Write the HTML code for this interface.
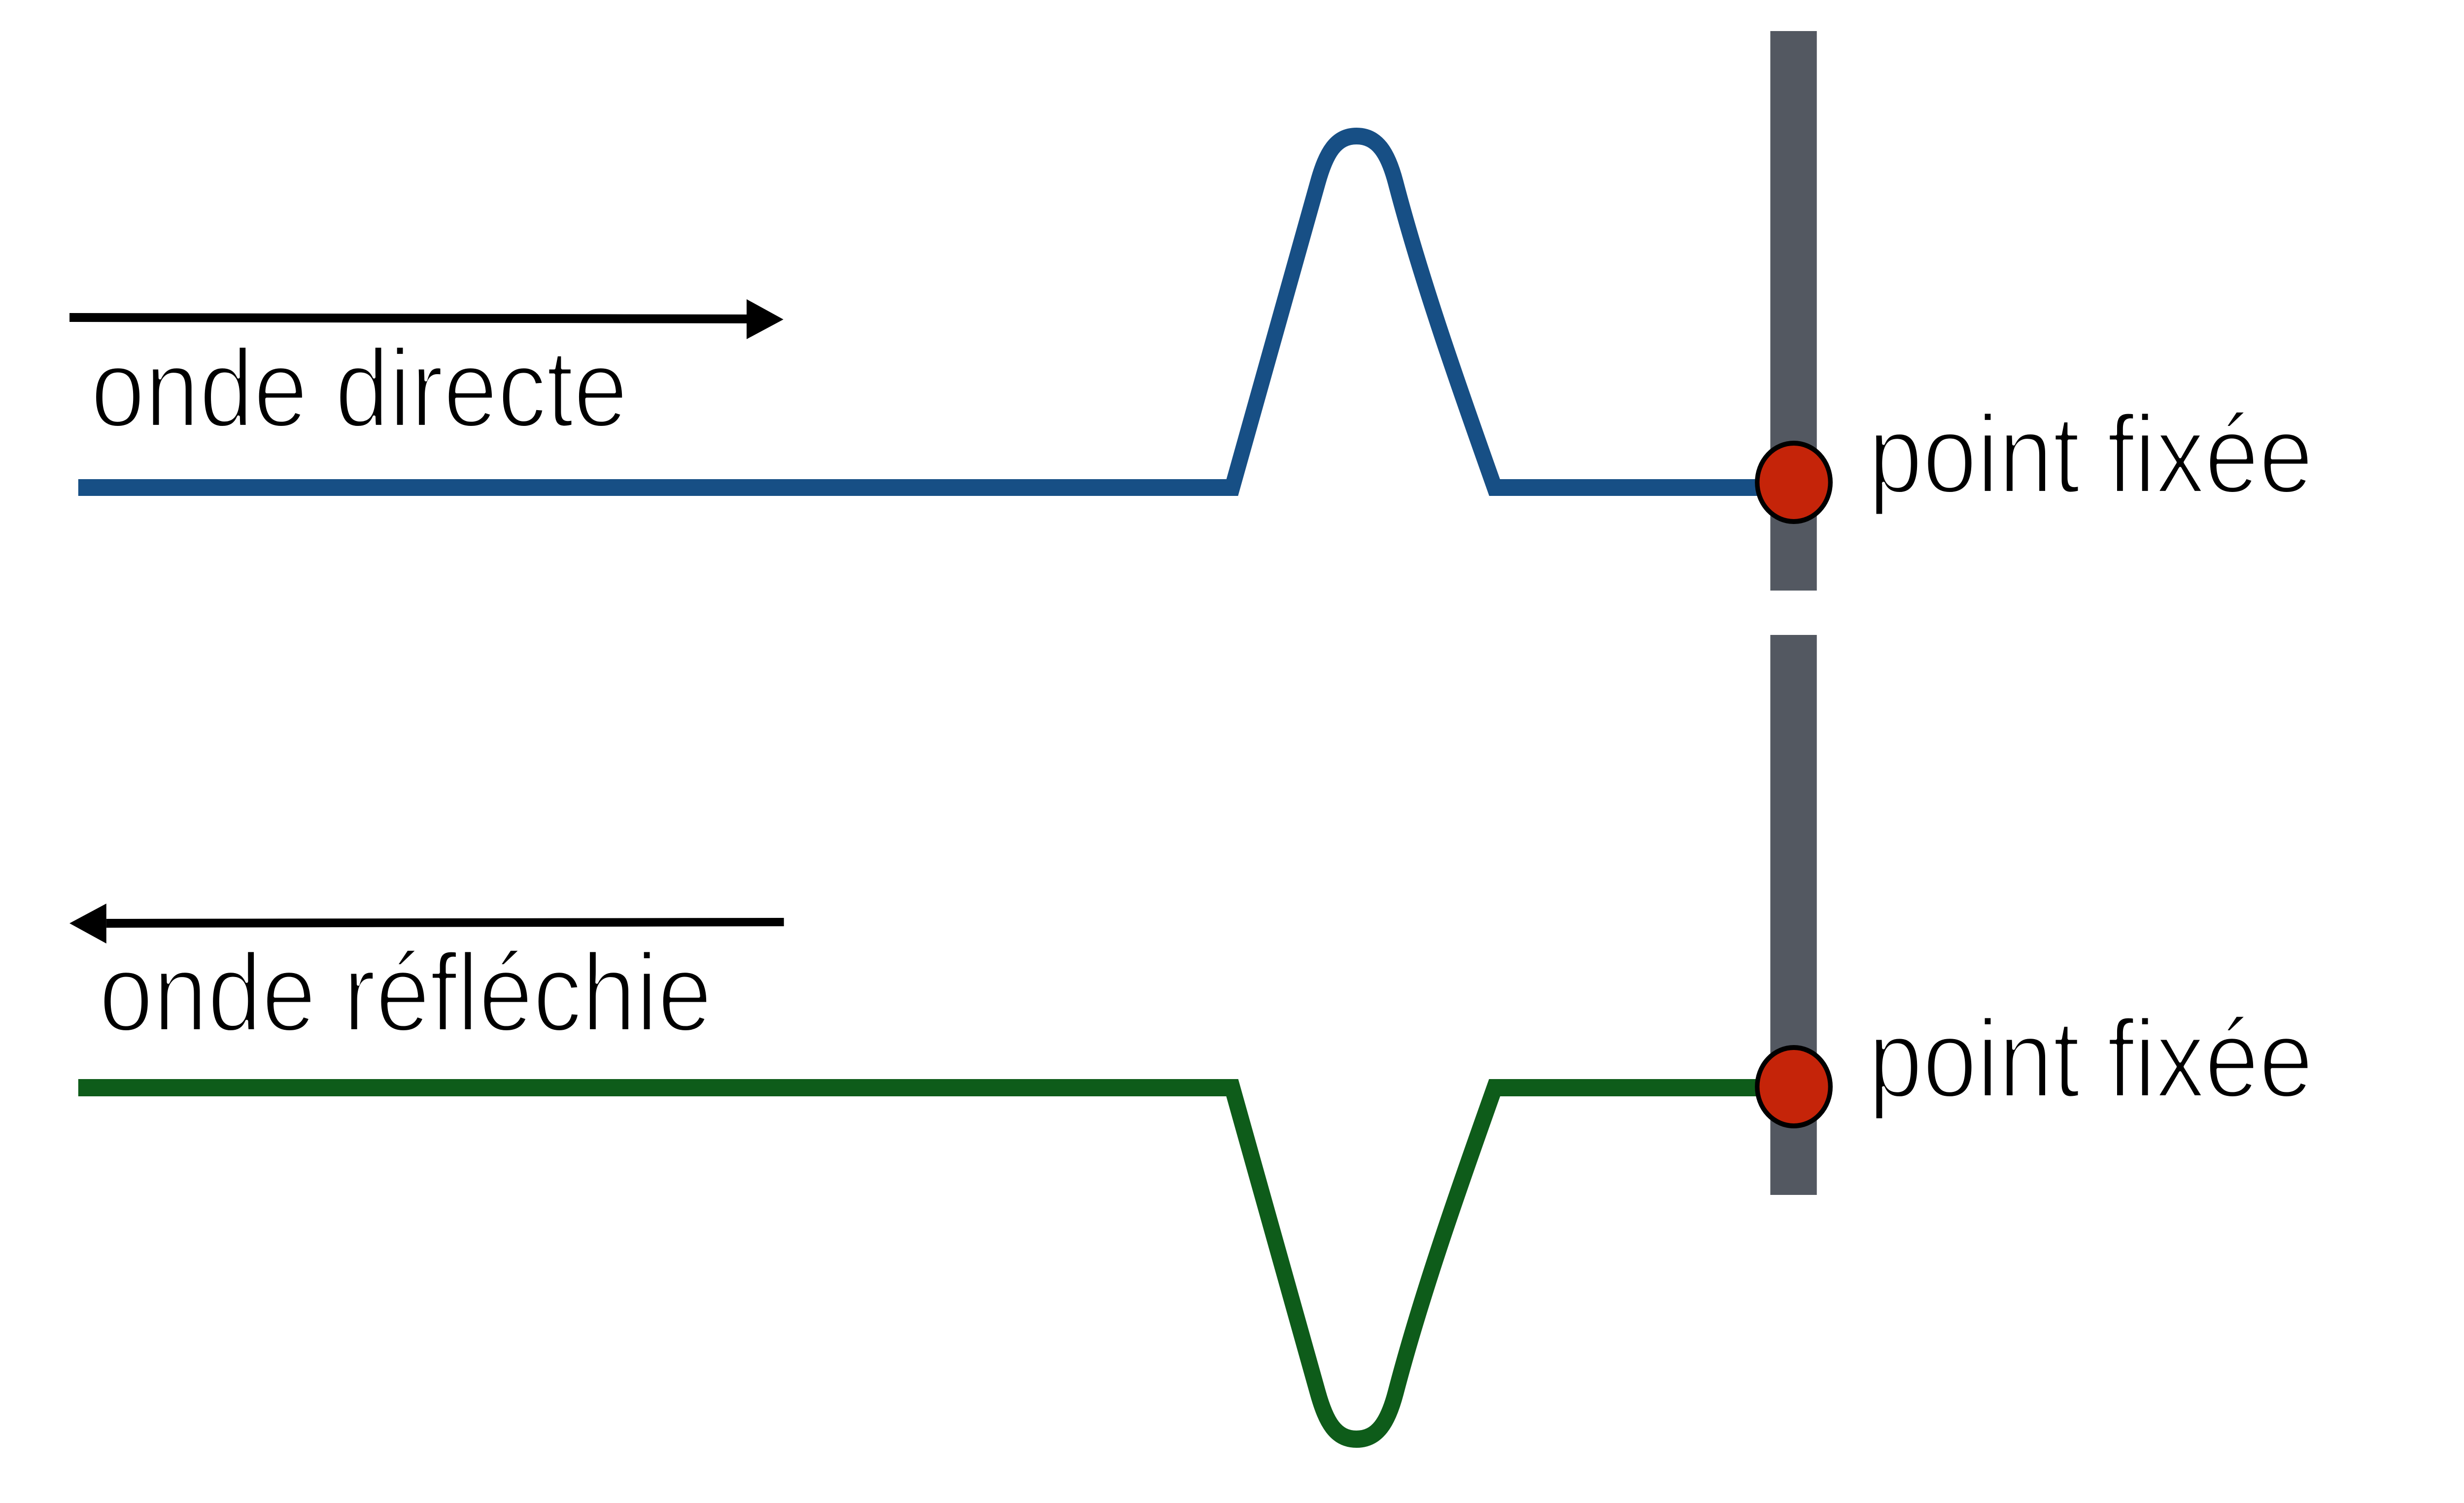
<!DOCTYPE html>
<html>
<head>
<meta charset="utf-8">
<style>
  html, body { margin: 0; padding: 0; background: #ffffff; width: 100%; height: 100%; overflow: hidden; }
  svg { display: block; position: absolute; left: 0; top: 0; width: 100vw; height: 100vh; }
  text { font-family: "Liberation Sans", "DejaVu Sans", sans-serif; font-size: 212px; fill: #000000;
         stroke: #ffffff; stroke-width: 6px; stroke-linejoin: round; }
</style>
</head>
<body>
<svg viewBox="0 0 5353 3049" preserveAspectRatio="none" xmlns="http://www.w3.org/2000/svg">
  <rect x="0" y="0" width="5353" height="3049" fill="#ffffff"/>

  <!-- gray walls -->
  <rect x="3846" y="63" width="101" height="1135" fill="#535861"/>
  <rect x="3846" y="1288" width="101" height="1136" fill="#535861"/>

  <!-- blue direct wave -->
  <path d="M 170 989 L 2677 989 L 2863 370 C 2881 310, 2902 276, 2947 276 C 2992 276, 3015 310, 3032 370 C 3088 570, 3171 789, 3247 989 L 3897 989"
        fill="none" stroke="#174f85" stroke-width="34" stroke-linejoin="miter" stroke-miterlimit="10"/>

  <!-- green reflected wave (mirror) -->
  <g transform="translate(0,3195.5) scale(1,-1)">
    <path d="M 170 989 L 2677 989 L 2863 370 C 2881 310, 2902 276, 2947 276 C 2992 276, 3015 310, 3032 370 C 3088 570, 3171 789, 3247 989 L 3897 989"
          fill="none" stroke="#0e5c1a" stroke-width="35" stroke-linejoin="miter" stroke-miterlimit="10"/>
  </g>

  <!-- red fixed points -->
  <circle cx="3897" cy="978.5" r="79.5" fill="#c52409" stroke="#000000" stroke-width="10"/>
  <circle cx="3897" cy="2204.5" r="79.5" fill="#c52409" stroke="#000000" stroke-width="10"/>

  <!-- top arrow (right) -->
  <polygon points="151,635 1624,638 1624,656 151,653" fill="#000000"/>
  <polygon points="1622,607 1702,648 1622,688" fill="#000000"/>

  <!-- bottom arrow (left) -->
  <polygon points="231,1864 1703,1862 1703,1879 231,1882" fill="#000000"/>
  <polygon points="151,1873 231,1833 231,1914" fill="#000000"/>

  <!-- labels -->
  <text transform="translate(197,865) scale(1,1.06)" x="0" y="0">onde directe</text>
  <text transform="translate(215,2091) scale(1,1.06)" x="0" y="0">onde réfléchie</text>
  <text transform="translate(4059,999) scale(1,1.06)" x="0" y="0">point fixée</text>
  <text transform="translate(4059,2225) scale(1,1.06)" x="0" y="0">point fixée</text>
</svg>
</body>
</html>
